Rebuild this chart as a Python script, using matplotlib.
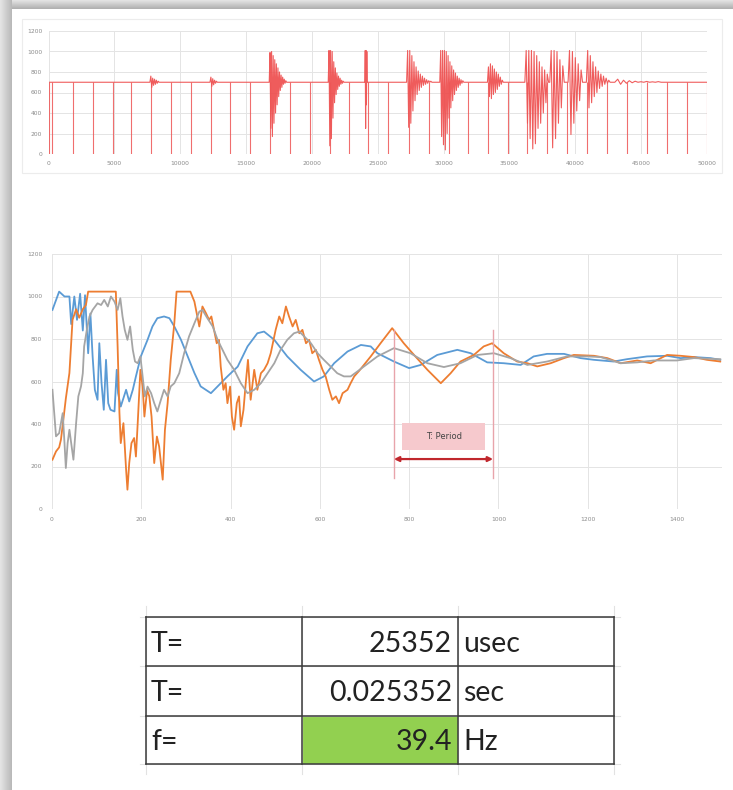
import numpy as np
import matplotlib
matplotlib.use("Agg")
import matplotlib.pyplot as plt
from matplotlib.patches import Rectangle

W, H = 733, 790

# ---------------- top panel: raw capture ----------------
base_level = 700
dropout_x = [60, 290, 1840, 3350, 4870, 6240, 7760, 9270, 10790, 12310, 13780,
             15290, 16810, 18330, 19840, 21360, 22800, 24250, 25770, 27360,
             28880, 30400, 31840, 33360, 34880, 36320, 37840, 39350, 40870,
             42390, 43910, 45420, 46940, 48460, 49980]

burst_start = [7700, 12260, 16760, 21240, 24020, 27190, 29710, 33330,
               36170, 38060, 39450, 40840, 43000]
burst_step = [70, 70, 60, 60, 30, 80, 70, 75, 100, 110, 110, 100, 220]
burst_values = [
    [700, 760, 650, 740, 670, 730, 680, 720, 690, 710, 700],
    [700, 750, 660, 735, 675, 720, 690, 710, 700],
    [700, 990, 250, 1000, 170, 960, 300, 920, 400, 880, 480, 840, 560, 800,
     620, 770, 650, 750, 680, 730, 690, 715, 700],
    [700, 1010, 80, 1010, 150, 1000, 350, 900, 500, 840, 580, 790, 630, 760,
     660, 740, 680, 720, 690, 710, 700],
    [700, 1010, 250, 1010, 480, 1000, 700],
    [700, 1010, 260, 1010, 300, 960, 420, 900, 520, 850, 580, 810, 620, 780,
     650, 760, 670, 740, 680, 725, 690, 715, 700, 710, 700],
    [700, 1010, 170, 1010, 90, 1010, 40, 1000, 200, 960, 350, 900, 450, 860,
     520, 820, 580, 790, 620, 760, 650, 740, 670, 725, 690, 715, 700],
    [700, 850, 560, 880, 540, 860, 580, 830, 600, 800, 630, 780, 660, 750,
     680, 720, 700],
    [700, 1010, 300, 1010, 150, 1010, 50, 1000, 100, 960, 250, 900, 300, 850,
     400, 820, 500, 780, 700],
    [700, 1010, 60, 1010, 150, 1000, 300, 920, 450, 860, 700],
    [700, 1010, 190, 1000, 300, 940, 420, 880, 520, 820, 700],
    [700, 1010, 450, 960, 500, 900, 560, 850, 600, 810, 640, 780, 660, 760,
     680, 740, 690, 720, 700],
    [700, 730, 680, 720, 690, 715, 695, 710, 700, 705, 700, 708, 700, 704,
     700, 706, 700],
]
top_xticks = list(range(0, 50001, 5000))
top_yticks = list(range(0, 1201, 200))

# ---------------- middle panel: three decaying responses ----------------
blue_x = [1, 16, 28, 39, 43, 50, 56, 63, 69, 74, 81, 86, 91, 96, 102, 106, 111,
          116, 121, 126, 131, 140, 145, 148, 154, 166, 173, 181, 188, 199, 214,
          225, 236, 251, 263, 274, 289, 304, 319, 333, 356, 371, 393, 416, 438,
          460, 475, 498, 527, 557, 587, 609, 632, 662, 692, 714, 729, 766, 800,
          826, 863, 908, 938, 975, 1012, 1050, 1079, 1109, 1147, 1184, 1214,
          1258, 1288, 1333, 1378, 1408, 1438, 1475, 1497]
blue_y = [937, 1023, 1000, 1000, 870, 1000, 890, 1013, 840, 1006, 733, 920, 718,
          561, 514, 780, 592, 467, 702, 498, 467, 459, 655, 545, 482, 561, 506,
          561, 624, 718, 796, 859, 898, 906, 898, 859, 796, 718, 640, 577, 545,
          577, 624, 670, 765, 827, 835, 796, 718, 655, 600, 624, 686, 741, 772,
          765, 733, 694, 663, 678, 725, 749, 733, 690, 686, 678, 718, 730, 730,
          710, 702, 694, 705, 718, 721, 710, 715, 710, 702]

orange_x = [1, 9, 16, 20, 26, 31, 39, 46, 54, 61, 69, 76, 81, 143, 147, 151, 154,
            160, 166, 169, 173, 178, 184, 188, 192, 198, 203, 207, 213, 218, 223,
            229, 235, 240, 248, 253, 259, 266, 274, 279, 310, 319, 330, 337, 345,
            352, 357, 363, 369, 374, 378, 384, 389, 393, 399, 403, 408, 414, 419,
            423, 429, 434, 439, 445, 453, 460, 468, 475, 483, 490, 501, 509, 516,
            524, 531, 539, 546, 554, 561, 569, 576, 583, 591, 598, 606, 613, 621,
            628, 636, 643, 651, 662, 669, 677, 688, 714, 736, 762, 788, 811, 841,
            871, 893, 915, 945, 967, 986, 1012, 1042, 1065, 1087, 1117, 1147,
            1169, 1214, 1244, 1274, 1311, 1341, 1378, 1408, 1438, 1467, 1497]
orange_y = [232, 271, 290, 326, 430, 520, 640, 890, 940, 900, 940, 960, 1023,
            1023, 765, 455, 310, 404, 185, 91, 216, 310, 334, 247, 404, 655, 576,
            435, 560, 530, 435, 216, 341, 294, 138, 373, 498, 702, 874, 1023,
            1023, 976, 859, 953, 921, 890, 906, 843, 780, 796, 670, 561, 592, 498,
            576, 435, 373, 498, 530, 389, 467, 592, 702, 514, 655, 561, 639, 655,
            686, 733, 843, 906, 874, 953, 906, 859, 890, 827, 843, 780, 796, 733,
            749, 702, 655, 624, 561, 514, 530, 498, 545, 561, 592, 624, 650, 718,
            780, 851, 780, 725, 655, 592, 639, 694, 725, 765, 780, 733, 694, 686,
            671, 686, 710, 725, 721, 710, 686, 699, 686, 725, 721, 715, 702, 694]

gray_x = [1, 9, 16, 20, 24, 28, 31, 35, 39, 43, 48, 54, 59, 65, 69, 72, 78, 84,
          91, 102, 110, 117, 125, 132, 140, 147, 153, 158, 163, 169, 175, 181,
          186, 192, 198, 203, 208, 214, 222, 229, 236, 244, 251, 259, 266, 274,
          285, 296, 307, 319, 330, 337, 348, 360, 371, 382, 393, 408, 423, 438,
          453, 468, 483, 498, 512, 527, 542, 554, 565, 580, 595, 609, 624, 639,
          654, 669, 684, 699, 729, 766, 803, 841, 878, 915, 953, 990, 1027, 1065,
          1109, 1154, 1199, 1229, 1274, 1311, 1348, 1400, 1438, 1497]
gray_y = [561, 342, 357, 404, 451, 310, 193, 310, 373, 310, 232, 404, 530, 577,
          639, 765, 843, 906, 937, 968, 960, 984, 953, 1000, 976, 937, 992, 906,
          843, 796, 859, 749, 694, 686, 718, 624, 530, 576, 545, 498, 459, 514,
          561, 530, 577, 592, 639, 733, 812, 874, 929, 937, 898, 859, 796, 749,
          702, 655, 592, 545, 561, 592, 639, 686, 749, 796, 827, 835, 812, 780,
          733, 702, 671, 639, 624, 624, 647, 671, 718, 757, 733, 686, 668, 686,
          725, 733, 710, 678, 694, 718, 718, 715, 686, 690, 699, 699, 710, 705]
mid_xticks = list(range(0, 1401, 200))
mid_yticks = list(range(0, 1201, 200))

# period marker on the middle panel
period_start, period_end = 766, 988
period_label = "T: Period"

# ---------------- result table ----------------
row_labels = ["T=", "T=", "f="]
period_usec = 25352
period_sec = period_usec / 1e6
freq_hz = 1.0 / period_sec
row_values = [f"{period_usec}", f"{period_sec:.6f}", f"{freq_hz:.1f}"]
row_units = ["usec", "sec", "Hz"]

# ======================================================================
fig = plt.figure(figsize=(W / 100, H / 100), dpi=100)
fig.patch.set_facecolor("white")

# background layer in pixel units: frame shading and the table
bg = fig.add_axes([0, 0, 1, 1], zorder=-5)
bg.set_xlim(0, W)
bg.set_ylim(H, 0)
bg.axis("off")

left_grad = np.linspace(0.90, 0.72, 64).reshape(1, -1)
bg.imshow(left_grad, cmap="gray", vmin=0, vmax=1, aspect="auto",
          extent=(0, 12, H, 0), interpolation="bicubic")
top_grad = np.linspace(0.90, 0.68, 64).reshape(-1, 1)
bg.imshow(top_grad, cmap="gray", vmin=0, vmax=1, aspect="auto",
          extent=(12, W, 9, 0), interpolation="bicubic")
bg.set_xlim(0, W)
bg.set_ylim(H, 0)
bg.add_patch(Rectangle((22, 19), 700, 154, fill=False, ec="#ececec", lw=0.8))


def style_axes(ax, xticks, yticks, ypad, xpad):
    for s in ax.spines.values():
        s.set_visible(False)
    ax.set_xticks(xticks)
    ax.set_yticks(yticks)
    ax.grid(True, color="#e4e4e4", lw=0.7)
    ax.set_axisbelow(True)
    ax.tick_params(length=0, labelsize=4.3, labelcolor="#8a8a8a")
    ax.tick_params(axis="y", pad=ypad)
    ax.tick_params(axis="x", pad=xpad)


# ---- top chart ----
ax1 = fig.add_axes([48.5 / W, 1 - 154 / H, (707 - 48.5) / W, (154 - 31) / H])
ax1.set_facecolor("none")
style_axes(ax1, top_xticks, top_yticks, 4.5, 5)
ax1.set_xlim(0, 50000)
ax1.set_ylim(0, 1200)

sig_x = [0]
sig_y = [base_level]
for start, step, vals in zip(burst_start, burst_step, burst_values):
    for i, v in enumerate(vals):
        sig_x.append(start + i * step)
        sig_y.append(v)
sig_x.append(50000)
sig_y.append(base_level)
order = np.argsort(sig_x, kind="stable")
ax1.plot(np.array(sig_x)[order], np.array(sig_y)[order], color="#ee4a4a",
         lw=0.8, alpha=0.9)
ax1.vlines(dropout_x, 0, base_level, color="#ee5555", lw=0.8, alpha=0.85)

# ---- middle chart ----
ax2 = fig.add_axes([52 / W, 1 - 509 / H, (721.6 - 52) / W, (509 - 254) / H])
ax2.set_facecolor("none")
style_axes(ax2, mid_xticks, mid_yticks, 7, 5.5)
ax2.set_xlim(0, 1500)
ax2.set_ylim(0, 1200)

ax2.plot(blue_x, blue_y, color="#5b9bd5", lw=1.3, solid_joinstyle="round")
ax2.plot(orange_x, orange_y, color="#ed7d31", lw=1.3, solid_joinstyle="round")
ax2.plot(gray_x, gray_y, color="#a5a5a5", lw=1.3, solid_joinstyle="round")

for px in (period_start, period_end):
    ax2.plot([px, px], [146, 843], color="#e8a4ab", lw=1.0, zorder=4)
ax2.add_patch(Rectangle((785, 280), 186, 124, fc="#f6c9cd", ec="none",
                        zorder=4))
ax2.text(878, 342, period_label, ha="center", va="center", fontsize=6,
         color="#444444", zorder=5)
ax2.annotate("", xy=(period_end, 235), xytext=(period_start, 235),
             arrowprops=dict(arrowstyle="<|-|>", color="#c0272d", lw=1.6,
                             mutation_scale=7, shrinkA=0, shrinkB=0),
             zorder=5)

# ---- result table ----
col_x = [146, 302, 458, 614]
row_y = [617, 666, 716, 764]
# faint sheet grid around the table
for cx in col_x:
    bg.plot([cx, cx], [606, 774], color="#e2e2e2", lw=0.8)
for ry in row_y:
    bg.plot([140, 620], [ry, ry], color="#e2e2e2", lw=0.8)
bg.add_patch(Rectangle((col_x[1], row_y[2]), col_x[2] - col_x[1],
                       row_y[3] - row_y[2], fc="#92d050", ec="none"))
for cx in col_x:
    bg.plot([cx, cx], [row_y[0], row_y[-1]], color="#3a3a3a", lw=1.1)
for ry in row_y:
    bg.plot([col_x[0], col_x[-1]], [ry, ry], color="#3a3a3a", lw=1.1)

tfont = dict(fontsize=20.5, family="Lato", color="#222222", va="center")
for i in range(3):
    cy = (row_y[i] + row_y[i + 1]) / 2 + 2
    bg.text(col_x[0] + 5, cy, row_labels[i], ha="left", **tfont)
    bg.text(col_x[2] - 6, cy, row_values[i], ha="right", **tfont)
    bg.text(col_x[2] + 5, cy, row_units[i], ha="left", **tfont)

fig.savefig("out.png", dpi=100, facecolor="white")
